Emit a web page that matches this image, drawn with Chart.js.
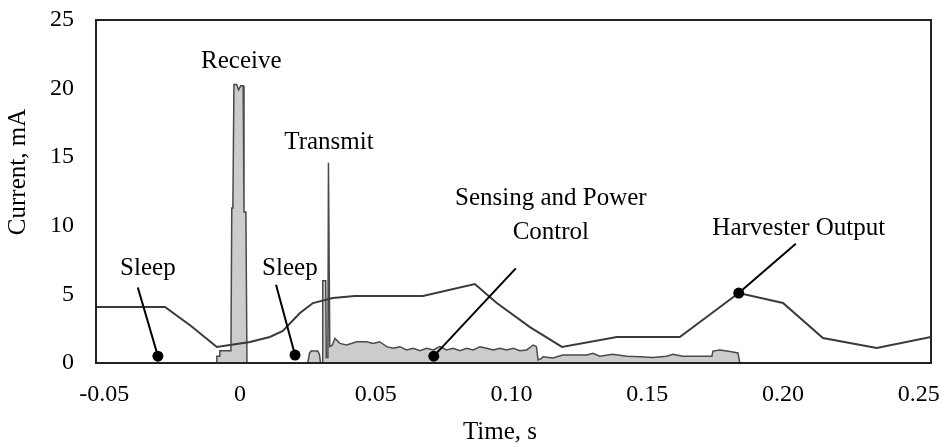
<!DOCTYPE html>
<html>
<head>
<meta charset="utf-8">
<title>Current profile</title>
<script src="https://cdn.jsdelivr.net/npm/chart.js@4.4.0/dist/chart.umd.min.js"></script>
<style>
  body { margin: 0; background: #fff; }
  #wrap { width: 949px; height: 447px; }
</style>
</head>
<body>
<div id="wrap"><canvas id="graph" width="949" height="447"></canvas></div>
<script>
// tick values
var xTicks = [-0.05, 0, 0.05, 0.10, 0.15, 0.20, 0.25];
var yTicks = [0, 5, 10, 15, 20, 25];

// harvester output current (s, mA)
var harvestTime = [-0.053, -0.0276, -0.0180, -0.0085, -0.0037, 0.0037, 0.0110, 0.0158, 0.0221, 0.0269,
  0.0342, 0.0423, 0.0674, 0.0865, 0.0946, 0.1068, 0.1186, 0.1388, 0.1620, 0.1837,
  0.2000, 0.2147, 0.2345, 0.2545];
var harvestCurrent = [4.08, 4.08, 2.70, 1.17, 1.31, 1.53, 1.90, 2.33, 3.64, 4.37,
  4.74, 4.88, 4.88, 5.76, 4.37, 2.62, 1.17, 1.90, 1.90, 5.10,
  4.37, 1.82, 1.09, 1.90];

// node supply current (s, mA)
var nodeTime = [-0.053, -0.0085, -0.0085, -0.0074, -0.0074, -0.0033, -0.0030, -0.0026, -0.0022, -0.0012,
  -0.0005, 0.0003, 0.0012, 0.0015, 0.0022, 0.0026, 0.0250, 0.0256, 0.0262, 0.0287,
  0.0293, 0.0297, 0.0303, 0.0305, 0.0316, 0.0318, 0.0324, 0.0326, 0.0328, 0.0331,
  0.0340, 0.0350, 0.0368, 0.0393, 0.0430, 0.0466, 0.0491, 0.0515, 0.0540, 0.0564,
  0.0589, 0.0614, 0.0638, 0.0663, 0.0687, 0.0712, 0.0736, 0.0761, 0.0785, 0.0810,
  0.0835, 0.0859, 0.0884, 0.0908, 0.0933, 0.0957, 0.0982, 0.1006, 0.1031, 0.1056,
  0.1080, 0.1092, 0.1098, 0.1111, 0.1116, 0.1152, 0.1189, 0.1278, 0.1300, 0.1325,
  0.1373, 0.1425, 0.1473, 0.1521, 0.1572, 0.1594, 0.1631, 0.1694, 0.1738, 0.1742,
  0.1767, 0.1793, 0.1815, 0.1834, 0.1841, 0.2545];
var nodeCurrent = [0, 0, 0.5, 0.5, 0.9, 0.9, 11.3, 11.3, 20.3, 20.3,
  19.9, 20.2, 20.2, 11.0, 11.0, 0, 0, 0.7, 0.87, 0.87,
  0.6, 0, 0, 6.0, 6.0, 0.4, 0.4, 14.6, 14.6, 1.2,
  1.3, 1.80, 1.43, 1.31, 1.55, 1.55, 1.43, 1.55, 1.19, 1.07,
  1.19, 0.95, 1.07, 0.90, 1.07, 0.95, 1.19, 0.95, 1.07, 0.90,
  1.07, 0.95, 1.19, 1.07, 0.95, 1.07, 0.95, 1.07, 0.90, 0.95,
  1.31, 1.19, 0.22, 0.34, 0.46, 0.36, 0.58, 0.58, 0.70, 0.50,
  0.63, 0.50, 0.46, 0.41, 0.50, 0.63, 0.50, 0.50, 0.50, 0.87,
  0.95, 0.87, 0.80, 0.73, 0, 0];

function toPoints(xs, ys) {
  return xs.map(function(t, i) { return {x: t, y: ys[i]}; });
}

// callouts: text anchors and leader lines, in axis units
var labels = [
  {text: ['Receive'], x: 0.0005, y: 22.0},
  {text: ['Transmit'], x: 0.0328, y: 16.1},
  {text: ['Sleep'], x: -0.0339, y: 6.9},
  {text: ['Sleep'], x: 0.0184, y: 6.9},
  {text: ['Sensing and Power', 'Control'], x: 0.1145, y: 12.0},
  {text: ['Harvester Output'], x: 0.2058, y: 9.8}
];
var leaders = [
  {x0: -0.0376, y0: 5.5, x1: -0.0302, y1: 0.5},
  {x0: 0.0133, y0: 5.7, x1: 0.0203, y1: 0.58},
  {x0: 0.1016, y0: 6.9, x1: 0.0714, y1: 0.5},
  {x0: 0.2047, y0: 8.7, x1: 0.1837, y1: 5.1}
];

var calloutPlugin = {
  id: 'callouts',
  afterDatasetsDraw: function(chart) {
    var ctx = chart.ctx, sx = chart.scales.x, sy = chart.scales.y, a = chart.chartArea;
    ctx.save();
    // plot frame
    ctx.strokeStyle = '#222';
    ctx.lineWidth = 2;
    ctx.strokeRect(a.left, a.top, a.right - a.left, a.bottom - a.top);

    ctx.fillStyle = '#000';
    ctx.font = '25px "Liberation Serif", serif';
    ctx.textAlign = 'center';
    ctx.textBaseline = 'middle';
    labels.forEach(function(l) {
      var px = sx.getPixelForValue(l.x), py = sy.getPixelForValue(l.y);
      l.text.forEach(function(s, i) { ctx.fillText(s, px, py + i * 34); });
    });

    // axis titles, set a little off the axis centres
    ctx.fillText('Time, s', a.left + 404, a.bottom + 69);
    ctx.save();
    ctx.translate(a.left - 78, a.top + 152);
    ctx.rotate(-Math.PI / 2);
    ctx.fillText('Current, mA', 0, 0);
    ctx.restore();

    ctx.strokeStyle = '#000';
    ctx.lineWidth = 2;
    leaders.forEach(function(d) {
      var x0 = sx.getPixelForValue(d.x0), y0 = sy.getPixelForValue(d.y0);
      var x1 = sx.getPixelForValue(d.x1), y1 = sy.getPixelForValue(d.y1);
      ctx.beginPath();
      ctx.moveTo(x0, y0);
      ctx.lineTo(x1, y1);
      ctx.stroke();
      ctx.beginPath();
      ctx.arc(x1, y1, 5.5, 0, Math.PI * 2);
      ctx.fill();
    });
    ctx.restore();
  }
};

Chart.defaults.font.family = '"Liberation Serif", serif';
Chart.defaults.color = '#000';

var ctx = document.getElementById('graph').getContext('2d');
var myChart = new Chart(ctx, {
  type: 'line',
  data: {
    datasets: [
      {
        label: 'Harvester Output',
        data: toPoints(harvestTime, harvestCurrent),
        borderColor: '#3a3a3a',
        borderWidth: 2,
        fill: false,
        pointRadius: 0,
        tension: 0
      },
      {
        label: 'Node Current',
        data: toPoints(nodeTime, nodeCurrent),
        borderColor: '#4a4a4a',
        borderWidth: 1.5,
        backgroundColor: '#cccccc',
        fill: 'origin',
        pointRadius: 0,
        tension: 0
      }
    ]
  },
  options: {
    responsive: false,
    animation: false,
    layout: {padding: {top: 20, right: 18, left: 0, bottom: 0}},
    plugins: {legend: {display: false}, tooltip: {enabled: false}},
    scales: {
      x: {
        type: 'linear',
        min: -0.053,
        max: 0.2545,
        grid: {display: false, drawTicks: false},
        border: {display: false},
        afterBuildTicks: function(axis) { axis.ticks = xTicks.map(function(v) { return {value: v}; }); },
        afterFit: function(axis) {
          axis.height = 84;
          axis.paddingLeft = 0;
          axis.paddingRight = 0;
        },
        ticks: {
          font: {size: 24},
          padding: 17,
          maxRotation: 0,
          callback: function(v) { return v === 0 ? '0' : v.toFixed(2); }
        }
      },
      y: {
        min: 0,
        max: 25,
        grid: {display: false, drawTicks: false},
        border: {display: false},
        afterBuildTicks: function(axis) { axis.ticks = yTicks.map(function(v) { return {value: v}; }); },
        afterFit: function(axis) {
          axis.width = 96;
          axis.paddingTop = 0;
          axis.paddingBottom = 0;
        },
        ticks: {font: {size: 24}, padding: 22}
      }
    }
  },
  plugins: [calloutPlugin]
});
</script>
</body>
</html>
